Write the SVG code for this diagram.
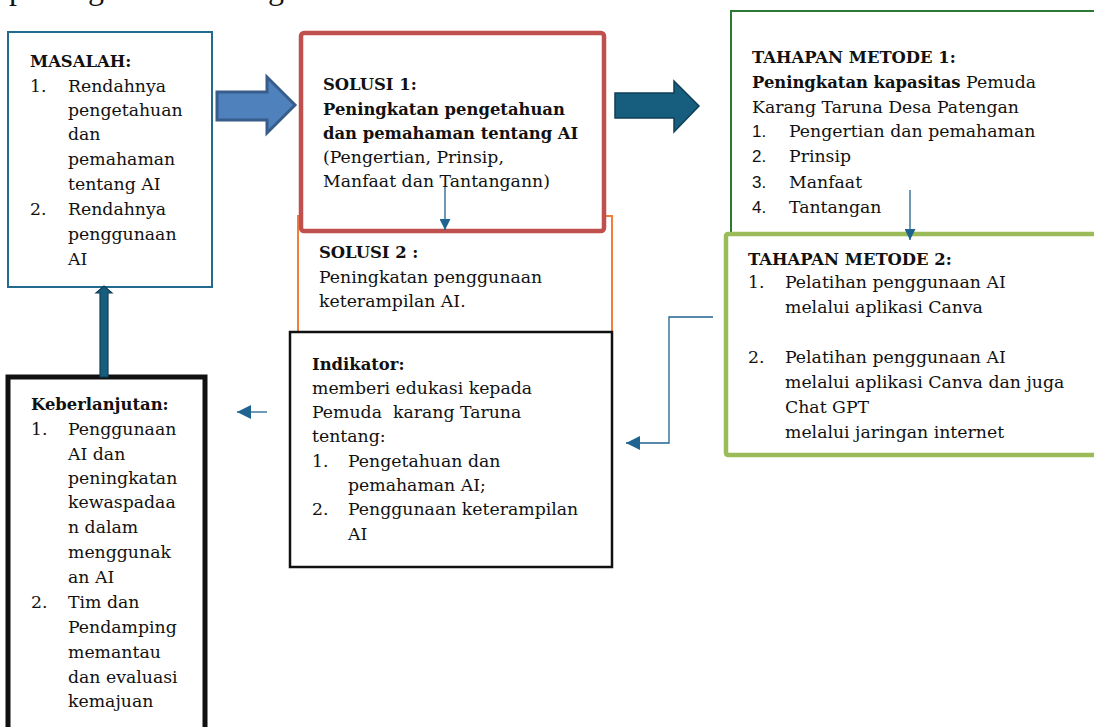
<svg xmlns="http://www.w3.org/2000/svg" width="1094" height="727" viewBox="0 0 1094 727">
<style>
text{font-family:"DejaVu Serif","Liberation Serif",serif;font-size:17.3px;fill:#111}
.b{font-weight:bold;font-size:16.4px}
.n{font-family:"Liberation Sans","DejaVu Sans",sans-serif;font-size:17px}
.frag{font-family:"Liberation Serif",serif;font-size:32px}
.conn{fill:none;stroke:#1F6391;stroke-width:1.3}
</style>
<defs>
<marker id="ah" viewBox="0 0 10 10" refX="10" refY="5" markerWidth="11" markerHeight="11" markerUnits="userSpaceOnUse" orient="auto">
<path d="M0,0 L10,5 L0,10 z" fill="#1F6391"/>
</marker>
<marker id="ah2" viewBox="0 0 10 10" refX="10" refY="5" markerWidth="14" markerHeight="14" markerUnits="userSpaceOnUse" orient="auto">
<path d="M0,0 L10,5 L0,10 z" fill="#1F6391"/>
</marker>
</defs>
<rect width="1094" height="727" fill="#fff"/>
<g id="top-fragment">
<text x="9" y="-1" class="frag">p</text>
<text x="88" y="-1" class="frag">g</text>
<text x="268" y="-1" class="frag">g</text>
</g>
<g id="solusi2">
<rect x="298" y="216" width="314" height="130" fill="#fff" stroke="#F07F3C" stroke-width="2"/>
<text x="319" y="258" class="b">SOLUSI 2 :</text>
<text x="319" y="283">Peningkatan penggunaan</text>
<text x="319" y="307">keterampilan AI.</text>
</g>
<g id="masalah">
<rect x="8" y="32" width="204" height="255" fill="#fff" stroke="#236B8E" stroke-width="2"/>
<text x="30" y="67" class="b">MASALAH:</text>
<text x="30" y="92">1.</text><text x="68" y="92">Rendahnya</text>
<text x="68" y="116">pengetahuan</text>
<text x="68" y="140">dan</text>
<text x="68" y="165">pemahaman</text>
<text x="68" y="190">tentang AI</text>
<text x="30" y="215">2.</text><text x="68" y="215">Rendahnya</text>
<text x="68" y="240">penggunaan</text>
<text x="68" y="265">AI</text>
</g>
<g id="solusi1">
<rect x="301" y="33" width="303" height="198" rx="3" fill="#fff" stroke="#C0504D" stroke-width="4.5"/>
<text x="323" y="90" class="b">SOLUSI 1:</text>
<text x="323" y="115" class="b">Peningkatan pengetahuan</text>
<text x="323" y="139" class="b">dan pemahaman tentang AI</text>
<text x="323" y="163">(Pengertian, Prinsip,</text>
<text x="323" y="187">Manfaat dan Tantangann)</text>
</g>
<g id="metode1">
<rect x="731" y="11" width="380" height="240" fill="#fff" stroke="#2A7A35" stroke-width="2"/>
<text x="752" y="63" class="b">TAHAPAN METODE 1:</text>
<text x="752" y="88"><tspan class="b">Peningkatan kapasitas</tspan> Pemuda</text>
<text x="752" y="113">Karang Taruna Desa Patengan</text>
<text x="752" y="137" class="n">1.</text><text x="789" y="137">Pengertian dan pemahaman</text>
<text x="752" y="162" class="n">2.</text><text x="789" y="162">Prinsip</text>
<text x="752" y="188" class="n">3.</text><text x="789" y="188">Manfaat</text>
<text x="752" y="213" class="n">4.</text><text x="789" y="213">Tantangan</text>
</g>
<g id="metode2">
<rect x="726" y="234" width="380" height="221" rx="2" fill="#fff" stroke="#9BBB59" stroke-width="4.5"/>
<text x="748" y="265" class="b">TAHAPAN METODE 2:</text>
<text x="748" y="288">1.</text><text x="785" y="288">Pelatihan penggunaan AI</text>
<text x="785" y="313">melalui aplikasi Canva</text>
<text x="748" y="363">2.</text><text x="785" y="363">Pelatihan penggunaan AI</text>
<text x="785" y="388">melalui aplikasi Canva dan juga</text>
<text x="785" y="413">Chat GPT</text>
<text x="785" y="438">melalui jaringan internet</text>
</g>
<g id="indikator">
<rect x="290" y="332" width="322" height="235" fill="#fff" stroke="#111" stroke-width="2.5"/>
<text x="312" y="370" class="b">Indikator:</text>
<text x="312" y="394">memberi edukasi kepada</text>
<text x="312" y="418" xml:space="preserve">Pemuda  karang Taruna</text>
<text x="312" y="442">tentang:</text>
<text x="312" y="467">1.</text><text x="348" y="467">Pengetahuan dan</text>
<text x="348" y="491">pemahaman AI;</text>
<text x="312" y="515">2.</text><text x="348" y="515">Penggunaan keterampilan</text>
<text x="348" y="540">AI</text>
</g>
<g id="keberlanjutan">
<rect x="8" y="377" width="197" height="380" fill="#fff" stroke="#111" stroke-width="5"/>
<text x="31" y="410" class="b">Keberlanjutan:</text>
<text x="31" y="435">1.</text><text x="68" y="435">Penggunaan</text>
<text x="68" y="460">AI dan</text>
<text x="68" y="484">peningkatan</text>
<text x="68" y="508">kewaspadaa</text>
<text x="68" y="533">n dalam</text>
<text x="68" y="558">menggunak</text>
<text x="68" y="583">an AI</text>
<text x="31" y="608">2.</text><text x="68" y="608">Tim dan</text>
<text x="68" y="633">Pendamping</text>
<text x="68" y="658">memantau</text>
<text x="68" y="683">dan evaluasi</text>
<text x="68" y="707">kemajuan</text>
</g>
<g id="connectors">
<path d="M217,92 H267 V77 L295,105 L267,133 V120 H217 Z" fill="#4F81BD" stroke="#385D8A" stroke-width="3" stroke-linejoin="miter"/>
<path d="M615,93 H674 V81 L699,106 L674,132 V118 H615 Z" fill="#175E7E" stroke="#0F3F57" stroke-width="1.5"/>
<path d="M100,377 V293 H96 L104,286 L112,293 H108 V377 Z" fill="#175E7E" stroke="#0F3F57" stroke-width="1.2"/>
<line x1="445" y1="187" x2="445" y2="230" class="conn" marker-end="url(#ah)"/>
<line x1="910" y1="190" x2="910" y2="240" class="conn" marker-end="url(#ah)"/>
<line x1="267" y1="412" x2="237" y2="412" class="conn" marker-end="url(#ah2)"/>
<polyline points="713,317 669,317 669,443 626,443" class="conn" marker-end="url(#ah2)"/>
</g>
</svg>
